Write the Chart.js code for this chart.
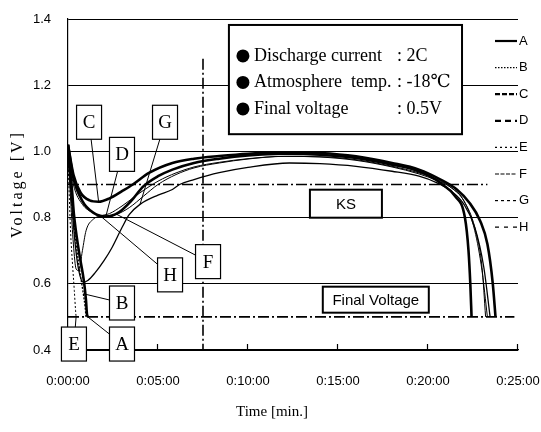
<!DOCTYPE html>
<html>
<head>
<meta charset="utf-8">
<script src="https://cdn.jsdelivr.net/npm/chart.js@4.4.1/dist/chart.umd.min.js"></script>
<style>
  body { margin: 0; background: #fff; }
  canvas { display: block; }
</style>
</head>
<body>
<canvas id="myChart" width="541" height="432"></canvas>
<script>
// time in minutes, voltage in V
const timeA = [0, 0.1, 0.22, 0.33, 0.6, 0.89, 1.0, 1.05, 1.1];
const voltA = [1.02, 0.95, 0.885, 0.81, 0.7, 0.606, 0.55, 0.51, 0.5];

const timeB = [0, 0.1, 0.25, 0.45, 0.65, 0.85, 0.95, 1.0];
const voltB = [1.0, 0.92, 0.82, 0.72, 0.64, 0.57, 0.53, 0.5];

const timeC = [0, 0.3, 0.7, 1.2, 1.7, 2.3, 3, 3.6, 4.5, 5.8, 7, 8.4, 10, 12, 14, 16, 18, 19.5, 20.7, 21.6, 22.3, 22.9, 23.3, 23.6, 23.75];
const voltC = [1.02, 0.93, 0.875, 0.852, 0.848, 0.858, 0.88, 0.9, 0.935, 0.965, 0.978, 0.986, 0.993, 0.997, 0.995, 0.985, 0.965, 0.945, 0.915, 0.885, 0.845, 0.79, 0.72, 0.6, 0.5];

const timeD = [0, 0.3, 0.8, 1.4, 2.1, 2.8, 3.5, 4.2, 5, 5.8, 7, 8.4, 10, 12, 14, 16, 18, 19.2, 20.1, 20.8, 21.5, 22.05, 22.25, 22.35, 22.42];
const voltD = [1.02, 0.92, 0.85, 0.815, 0.803, 0.815, 0.85, 0.895, 0.925, 0.945, 0.965, 0.978, 0.988, 0.993, 0.99, 0.98, 0.96, 0.945, 0.925, 0.9, 0.865, 0.8, 0.7, 0.6, 0.5];

const timeE = [0, 0.08, 0.15, 0.25, 0.35, 0.42, 0.45];
const voltE = [0.98, 0.85, 0.75, 0.66, 0.58, 0.52, 0.5];

const timeF = [0, 0.3, 0.8, 1.4, 2, 2.7, 3.4, 4.2, 5, 6, 7, 8.4, 10, 12, 14, 16, 18, 19.5, 20.5, 21.3, 22, 22.6, 23, 23.2];
const voltF = [1.0, 0.9, 0.84, 0.815, 0.805, 0.81, 0.83, 0.865, 0.9, 0.93, 0.95, 0.965, 0.977, 0.985, 0.984, 0.975, 0.955, 0.935, 0.915, 0.89, 0.85, 0.77, 0.65, 0.5];

const timeG = [0, 0.2, 0.4, 0.6, 0.85, 1.1, 1.5, 2, 2.44, 3, 3.4, 4, 5, 5.8, 6.2, 7, 8.4, 10, 12.3, 14, 16, 18, 19.5, 20.5, 21.3, 22, 22.6, 23.1, 23.45];
const voltG = [1.0, 0.85, 0.72, 0.64, 0.605, 0.61, 0.633, 0.67, 0.709, 0.77, 0.809, 0.84, 0.868, 0.885, 0.9, 0.915, 0.936, 0.952, 0.965, 0.963, 0.955, 0.94, 0.925, 0.905, 0.88, 0.84, 0.77, 0.65, 0.5];

const timeH = [0, 0.15, 0.3, 0.45, 0.6, 0.8, 1.0, 1.4, 1.8, 2.3, 3, 4, 5, 6, 7, 8.4, 10, 12, 14, 16, 18, 19.5, 20.5, 21.3, 22, 22.6, 23, 23.3];
const voltH = [1.0, 0.85, 0.72, 0.645, 0.64, 0.7, 0.76, 0.795, 0.805, 0.812, 0.835, 0.875, 0.91, 0.935, 0.953, 0.967, 0.978, 0.985, 0.983, 0.973, 0.953, 0.932, 0.912, 0.89, 0.85, 0.76, 0.64, 0.5];

// reference lines (KS 0.9 V, final voltage 0.5 V, marker at 7.5 min)
const ksLine = { t: [0, 23.3], v: [0.9, 0.9] };
const finalLine = { t: [0, 24.8], v: [0.5, 0.5] };
const markLine = { t: [7.5, 7.5], v: [1.28, 0.4] };

const xTicks = [0, 5, 10, 15, 20, 25];
const yTicks = [0.4, 0.6, 0.8, 1.0, 1.2, 1.4];

const infoRows = [
    ['Discharge current', ': 2C'],
    ['Atmosphere  temp.', ': -18\u2103'],
    ['Final voltage', ': 0.5V']
];

function pts(ts, vs) {
    return ts.map((t, i) => ({ x: t, y: vs[i] }));
}

function fmtTime(m) {
    return '0:' + String(m).padStart(2, '0') + ':00';
}

const narrow = "'Liberation Sans Narrow', 'Liberation Sans', sans-serif";
const serif = "'Liberation Serif', 'DejaVu Serif', serif";

function curve(label, ts, vs, width, dash, legendDash) {
    return {
        label: label,
        data: pts(ts, vs),
        borderColor: '#000',
        borderWidth: width,
        borderDash: dash,
        legendDash: legendDash,
        pointRadius: 0,
        cubicInterpolationMode: 'monotone',
        fill: false,
        isCurve: true
    };
}

function refLine(line) {
    return {
        label: '',
        data: pts(line.t, line.v),
        borderColor: '#000',
        borderWidth: 1.6,
        borderDash: [11, 3, 2, 3],
        pointRadius: 0,
        tension: 0,
        fill: false
    };
}

const datasets = [
    refLine(ksLine),
    refLine(finalLine),
    refLine(markLine),
    curve('A', timeA, voltA, 2.6, [], []),
    curve('B', timeB, voltB, 1.3, [2, 1.5], [1.5, 1.5]),
    curve('C', timeC, voltC, 2.6, [], [5, 2]),
    curve('D', timeD, voltD, 2.6, [], [6, 4]),
    curve('E', timeE, voltE, 1, [2, 2], [2, 3]),
    curve('F', timeF, voltF, 1, [], [4, 1.5]),
    curve('G', timeG, voltG, 1.3, [], [3, 3]),
    curve('H', timeH, voltH, 1, [], [4, 5])
];

// label boxes: centre in data units, leader goes to a point of the named series
const tags = [
    { name: 'C', t: 1.17, v: 1.088, series: 'C', idx: 4 },
    { name: 'D', t: 3.0, v: 0.991, series: 'D', idx: 4 },
    { name: 'G', t: 5.39, v: 1.088, series: 'G', idx: 11 },
    { name: 'H', t: 5.67, v: 0.627, series: 'H', idx: 8 },
    { name: 'F', t: 7.78, v: 0.667, series: 'F', idx: 5 },
    { name: 'B', t: 3.0, v: 0.542, series: 'B', idx: 5 },
    { name: 'A', t: 3.0, v: 0.418, series: 'A', idx: 8 },
    { name: 'E', t: 0.33, v: 0.418, series: 'E', idx: 6 }
];

const overlay = {
    id: 'overlay',
    afterDatasetsDraw(chart) {
        const ctx = chart.ctx;
        const xs = chart.scales.x;
        const ys = chart.scales.y;
        const area = chart.chartArea;
        ctx.save();

        // inward ticks on time axis
        ctx.strokeStyle = '#000';
        ctx.lineWidth = 1.2;
        xTicks.slice(1).forEach(t => {
            const px = Math.round(xs.getPixelForValue(t)) - 0.5;
            ctx.beginPath();
            ctx.moveTo(px, area.bottom);
            ctx.lineTo(px, area.bottom - 6);
            ctx.stroke();
        });

        // leaders and letter boxes
        tags.forEach(tag => {
            const dsIndex = chart.data.datasets.findIndex(d => d.isCurve && d.label === tag.series);
            const el = chart.getDatasetMeta(dsIndex).data[tag.idx];
            const cx = xs.getPixelForValue(tag.t);
            const cy = ys.getPixelForValue(tag.v);
            ctx.lineWidth = 1;
            ctx.setLineDash([]);
            ctx.beginPath();
            ctx.moveTo(cx, cy);
            ctx.lineTo(el.x, el.y);
            ctx.stroke();
        });
        tags.forEach(tag => {
            const cx = xs.getPixelForValue(tag.t);
            const cy = ys.getPixelForValue(tag.v);
            const w = 25, h = 34;
            ctx.fillStyle = '#fff';
            ctx.fillRect(cx - w / 2, cy - h / 2, w, h);
            ctx.lineWidth = 1.2;
            ctx.strokeRect(cx - w / 2, cy - h / 2, w, h);
            ctx.fillStyle = '#000';
            ctx.font = '19px ' + serif;
            ctx.textAlign = 'center';
            ctx.textBaseline = 'middle';
            ctx.fillText(tag.name, cx, cy + 1);
        });

        // KS and Final Voltage boxes
        [['KS', 15.44, 0.842, 72, 28], ['Final Voltage', 17.1, 0.552, 106, 26]].forEach(b => {
            const cx = xs.getPixelForValue(b[1]);
            const cy = ys.getPixelForValue(b[2]);
            ctx.fillStyle = '#fff';
            ctx.fillRect(cx - b[3] / 2, cy - b[4] / 2, b[3], b[4]);
            ctx.lineWidth = 2;
            ctx.strokeRect(cx - b[3] / 2, cy - b[4] / 2, b[3], b[4]);
            ctx.fillStyle = '#000';
            ctx.font = '15px ' + narrow;
            ctx.textAlign = 'center';
            ctx.textBaseline = 'middle';
            ctx.fillText(b[0], cx, cy + 1);
        });

        // condition box
        const bx0 = xs.getPixelForValue(8.94);
        const bx1 = xs.getPixelForValue(21.89);
        const by0 = ys.getPixelForValue(1.382);
        const by1 = ys.getPixelForValue(1.052);
        ctx.fillStyle = '#fff';
        ctx.fillRect(bx0, by0, bx1 - bx0, by1 - by0);
        ctx.lineWidth = 2;
        ctx.strokeRect(bx0, by0, bx1 - bx0, by1 - by0);
        ctx.fillStyle = '#000';
        ctx.font = '18px ' + serif;
        ctx.textAlign = 'left';
        ctx.textBaseline = 'middle';
        infoRows.forEach((row, i) => {
            const ry = by0 + 31 + i * 26.5;
            ctx.beginPath();
            ctx.arc(bx0 + 14, ry, 6.5, 0, Math.PI * 2);
            ctx.fill();
            ctx.fillText(row[0], bx0 + 25, ry);
            ctx.fillText(row[1], bx0 + 168, ry);
        });

        // legend
        chart.data.datasets.filter(d => d.isCurve).forEach((d, i) => {
            const ly = area.top + 22 + i * 26.6;
            const lx0 = area.right - 23;
            const lx1 = area.right - 1;
            ctx.lineWidth = d.borderWidth > 2 ? 2.2 : 1.2;
            ctx.setLineDash(d.legendDash);
            ctx.beginPath();
            ctx.moveTo(lx0, ly);
            ctx.lineTo(lx1, ly);
            ctx.stroke();
            ctx.setLineDash([]);
            ctx.font = '13px ' + narrow;
            ctx.textAlign = 'left';
            ctx.textBaseline = 'middle';
            ctx.fillText(d.label, lx1 + 2, ly);
        });

        // axis titles
        ctx.font = '15px ' + serif;
        ctx.textAlign = 'center';
        ctx.textBaseline = 'middle';
        ctx.fillText('Time [min.]', 272, 412);

        ctx.save();
        ctx.translate(18, 184);
        ctx.rotate(-Math.PI / 2);
        ctx.font = '16px ' + serif;
        ctx.letterSpacing = '3px';
        ctx.fillText('Voltage [V]', 0, 0);
        ctx.restore();

        ctx.restore();
    }
};

const ctx = document.getElementById('myChart');
new Chart(ctx, {
    type: 'line',
    data: { datasets: datasets },
    options: {
        responsive: false,
        animation: false,
        layout: { padding: { top: 19, right: 23, left: 0, bottom: 0 } },
        plugins: {
            legend: { display: false },
            tooltip: { enabled: false }
        },
        scales: {
            x: {
                type: 'linear',
                min: 0,
                max: 25,
                afterFit: s => { s.height = 82; s.paddingLeft = 0; s.paddingRight = 0; },
                afterBuildTicks: s => { s.ticks = xTicks.map(v => ({ value: v })); },
                grid: { drawOnChartArea: false, drawTicks: false },
                border: { color: '#000', width: 1.2 },
                ticks: {
                    padding: 24,
                    maxRotation: 0,
                    color: '#000',
                    font: { family: narrow, size: 13 },
                    callback: v => fmtTime(v)
                }
            },
            y: {
                type: 'linear',
                min: 0.4,
                max: 1.4,
                afterFit: s => { s.width = 68; s.paddingTop = 0; s.paddingBottom = 0; },
                afterBuildTicks: s => { s.ticks = yTicks.map(v => ({ value: v })); },
                grid: { color: '#000', lineWidth: 1, drawTicks: false },
                border: { color: '#000', width: 1.2 },
                ticks: {
                    padding: 17,
                    color: '#000',
                    font: { family: narrow, size: 13 },
                    callback: v => v.toFixed(1)
                }
            }
        }
    },
    plugins: [overlay]
});
</script>
</body>
</html>
